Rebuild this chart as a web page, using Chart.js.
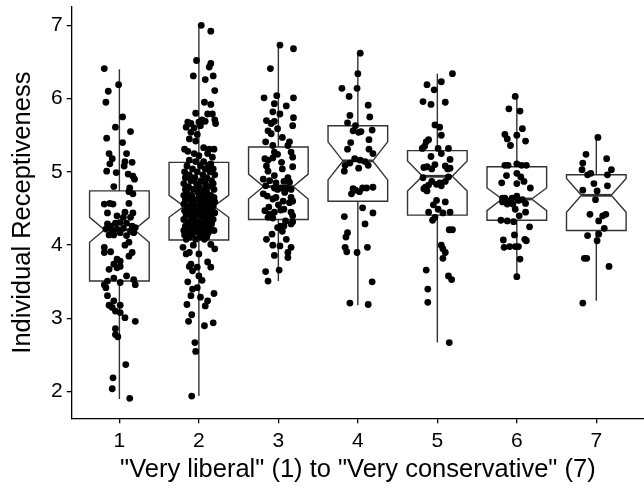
<!DOCTYPE html>
<html>
<head>
<meta charset="utf-8">
<script src="https://cdn.jsdelivr.net/npm/chart.js@4.4.0/dist/chart.umd.min.js"></script>
<style>
  html, body { margin: 0; padding: 0; background: #fff; }
  #chart { display: block; }
</style>
</head>
<body>
<canvas id="chart" width="644" height="492"></canvas>
<script>
// ideology categories (1 = very liberal, 7 = very conservative)
const categories = [1, 2, 3, 4, 5, 6, 7];
const xTicks = [1, 2, 3, 4, 5, 6, 7];
const yTicks = [2, 3, 4, 5, 6, 7];

// box summary, one entry per category
const whiskLo = [1.90, 1.94, 3.51, 3.18, 2.67, 3.57, 3.24];
const q1      = [3.51, 4.07, 4.35, 4.60, 4.41, 4.34, 4.20];
const notchLo = [4.04, 4.38, 4.63, 4.89, 4.74, 4.47, 4.45];
const median  = [4.21, 4.53, 4.80, 5.15, 4.94, 4.63, 4.68];
const notchHi = [4.38, 4.68, 4.97, 5.41, 5.15, 4.78, 4.91];
const q3      = [4.74, 5.13, 5.34, 5.63, 5.29, 5.07, 4.96];
const whiskHi = [6.40, 7.00, 6.73, 6.62, 6.34, 6.03, 5.47];

// jittered respondents: [horizontal jitter, receptiveness]
const cat1 = [
  [-0.19, 6.41], [-0.01, 6.19], [-0.14, 6.10], [-0.17, 5.95], [0.04, 5.75], [-0.05, 5.61],
  [0.14, 5.55], [-0.16, 5.46], [0.04, 5.40], [-0.13, 5.25], [0.09, 5.25], [-0.09, 5.18],
  [-0.12, 5.11], [0.07, 5.14], [0.16, 5.13], [0.06, 5.08], [-0.16, 5.01], [-0.04, 4.99],
  [0.11, 4.97], [0.17, 4.94], [0.19, 4.90], [-0.07, 4.80], [0.13, 4.78], [0.12, 4.73],
  [0.17, 4.70], [-0.19, 4.56], [-0.12, 4.57], [-0.08, 4.56], [0.12, 4.57], [-0.15, 4.44],
  [0.07, 4.45], [0.17, 4.44], [-0.03, 4.40], [0.05, 4.38], [0.14, 4.38], [-0.15, 4.29],
  [-0.11, 4.26], [-0.05, 4.30], [0.01, 4.31], [0.09, 4.30], [0.16, 4.26], [0.20, 4.24],
  [-0.17, 4.22], [-0.09, 4.19], [-0.03, 4.22], [0.05, 4.23], [0.14, 4.19], [0.18, 4.17],
  [-0.13, 4.14], [-0.07, 4.14], [0.01, 4.17], [0.09, 4.13], [-0.19, 3.97], [0.07, 4.00],
  [0.12, 4.04], [-0.19, 3.90], [-0.11, 3.91], [0.16, 3.90], [0.12, 3.85], [-0.03, 3.81],
  [0.01, 3.78], [-0.07, 3.74], [-0.13, 3.67], [-0.03, 3.69], [0.01, 3.71], [0.09, 3.58],
  [0.18, 3.53], [-0.07, 3.55], [-0.15, 3.51], [-0.19, 3.46], [-0.17, 3.42], [0.20, 3.46],
  [0.01, 3.49], [-0.15, 3.31], [-0.07, 3.24], [-0.13, 3.18], [-0.09, 3.15], [0.01, 3.18],
  [-0.05, 3.10], [0.01, 3.08], [0.07, 3.01], [0.20, 2.96], [-0.05, 2.86], [-0.05, 2.78],
  [-0.02, 2.75], [0.08, 2.37], [-0.08, 2.19], [-0.09, 2.04], [0.13, 1.91]
];

const cat2 = [
  [0.03, 7.00], [0.15, 6.92], [-0.03, 6.52], [0.15, 6.48], [0.13, 6.43], [-0.07, 6.31],
  [0.08, 6.26], [0.18, 6.31], [0.20, 6.11], [0.07, 5.95], [0.15, 5.92], [-0.04, 5.80],
  [0.11, 5.79], [0.17, 5.79], [0.20, 5.71], [0.21, 5.66], [-0.14, 5.68], [-0.10, 5.66],
  [0.00, 5.68], [0.04, 5.71], [0.08, 5.69], [-0.16, 5.61], [-0.06, 5.60], [0.02, 5.63],
  [-0.10, 5.54], [-0.02, 5.51], [-0.12, 5.45], [-0.04, 5.42], [-0.18, 5.31], [-0.14, 5.28],
  [0.06, 5.33], [0.13, 5.31], [0.19, 5.31], [-0.06, 5.25], [0.00, 5.22], [0.11, 5.25],
  [0.17, 5.20], [-0.12, 5.16], [-0.04, 5.14], [0.06, 5.14], [0.15, 5.11],
  [-0.15, 5.08], [0.02, 5.08], [0.12, 5.08], [-0.08, 5.04], [0.08, 5.04], [0.18, 5.04],
  [-0.18, 5.00], [-0.02, 5.00], [0.14, 5.00], [-0.12, 4.96], [0.05, 4.96], [0.20, 4.96],
  [-0.05, 4.92], [0.10, 4.92], [-0.17, 4.92], [-0.10, 4.88], [0.03, 4.88], [0.16, 4.88],
  [-0.19, 4.84], [-0.03, 4.84], [0.08, 4.84], [0.18, 4.84], [-0.13, 4.80], [0.00, 4.80],
  [0.12, 4.80], [-0.07, 4.76], [0.06, 4.76], [0.19, 4.76], [-0.17, 4.76], [-0.15, 4.72],
  [-0.01, 4.72], [0.10, 4.72], [-0.09, 4.68], [0.04, 4.68], [0.15, 4.68], [-0.19, 4.68],
  [-0.13, 4.65], [0.00, 4.65], [0.09, 4.65], [0.19, 4.65], [-0.17, 4.62], [-0.05, 4.62],
  [0.06, 4.62], [0.14, 4.62], [-0.10, 4.59], [0.02, 4.59], [0.11, 4.59], [0.20, 4.59],
  [-0.19, 4.56], [-0.07, 4.56], [0.05, 4.56], [0.16, 4.56], [-0.14, 4.53], [-0.02, 4.53],
  [0.09, 4.53], [0.18, 4.53], [-0.10, 4.50], [0.01, 4.50], [0.13, 4.50], [-0.18, 4.47],
  [-0.06, 4.47], [0.07, 4.47], [0.17, 4.47], [-0.12, 4.44], [0.00, 4.44], [0.10, 4.44],
  [0.20, 4.44], [-0.16, 4.41], [-0.04, 4.41], [0.06, 4.41], [0.15, 4.41], [-0.09, 4.38],
  [0.03, 4.38], [0.12, 4.38], [-0.19, 4.35], [-0.06, 4.35], [0.08, 4.35], [0.18, 4.35],
  [-0.13, 4.32], [-0.01, 4.32], [0.11, 4.32], [-0.08, 4.29], [0.05, 4.29], [0.16, 4.29],
  [-0.17, 4.26], [-0.03, 4.26], [0.09, 4.26], [-0.11, 4.23], [0.02, 4.23], [0.14, 4.23],
  [-0.19, 4.20], [-0.06, 4.20], [0.07, 4.20], [0.19, 4.20], [-0.14, 4.17], [0.00, 4.17],
  [0.12, 4.17], [-0.08, 4.14], [0.05, 4.14], [-0.18, 4.14], [-0.12, 4.11], [0.01, 4.11],
  [0.10, 4.11], [-0.16, 4.08], [-0.04, 4.08], [0.07, 4.08],
  [-0.20, 3.97], [-0.07, 4.00], [0.15, 4.01], [0.20, 3.95], [-0.16, 3.88], [-0.12, 3.90],
  [0.00, 3.88], [-0.10, 3.74], [-0.02, 3.70], [0.11, 3.77], [0.15, 3.70], [-0.08, 3.65],
  [-0.12, 3.71], [0.00, 3.58], [-0.14, 3.50], [0.04, 3.52], [-0.08, 3.40], [-0.02, 3.42],
  [-0.10, 3.31], [0.02, 3.29], [0.19, 3.34], [0.11, 3.24], [0.08, 3.17], [-0.15, 3.19],
  [-0.09, 3.05], [-0.13, 2.96], [0.07, 2.90], [0.18, 2.94], [-0.05, 2.67], [-0.04, 2.55],
  [-0.09, 1.94]
];

const cat3 = [
  [0.02, 6.73], [0.19, 6.68], [-0.10, 6.41], [-0.18, 6.01], [-0.02, 6.04], [0.19, 6.01],
  [-0.05, 5.93], [0.10, 5.90], [-0.07, 5.82], [0.02, 5.79], [0.19, 5.74], [-0.15, 5.70],
  [-0.05, 5.69], [-0.09, 5.66], [0.18, 5.63], [-0.13, 5.56], [-0.01, 5.59], [-0.09, 5.52],
  [0.05, 5.47], [-0.16, 5.41], [0.14, 5.41], [0.12, 5.36], [-0.07, 5.36], [0.16, 5.27],
  [-0.05, 5.27], [-0.01, 5.24], [-0.17, 5.18], [-0.13, 5.16], [-0.07, 5.19], [0.18, 5.20],
  [0.04, 5.13], [-0.15, 5.08], [-0.13, 5.01], [0.05, 5.04], [0.18, 5.07], [-0.05, 4.95],
  [0.12, 4.92], [-0.19, 4.90], [-0.11, 4.88], [0.07, 4.87], [0.14, 4.86], [-0.03, 4.85],
  [-0.16, 4.81], [-0.05, 4.78], [-0.01, 4.76], [0.03, 4.78], [0.10, 4.78], [0.16, 4.76],
  [0.08, 4.72], [-0.19, 4.70], [-0.14, 4.67], [0.16, 4.65], [0.18, 4.60], [0.14, 4.58],
  [-0.07, 4.63], [-0.03, 4.65], [0.06, 4.60], [0.00, 4.55], [-0.12, 4.52], [-0.17, 4.47],
  [-0.11, 4.42], [-0.05, 4.45], [0.03, 4.48], [0.07, 4.49], [0.16, 4.45], [0.18, 4.40],
  [-0.13, 4.38], [-0.07, 4.37], [0.09, 4.33], [0.18, 4.32], [0.03, 4.26], [-0.01, 4.24],
  [0.05, 4.19], [0.07, 4.26], [0.16, 4.29], [-0.08, 4.15], [-0.15, 4.08], [0.10, 4.08],
  [-0.07, 4.00], [0.02, 3.99], [0.16, 3.97], [0.12, 3.90], [-0.05, 3.86], [0.12, 3.83],
  [-0.16, 3.64], [0.01, 3.66], [-0.13, 3.51]
];

const cat4 = [
  [0.03, 6.62], [0.00, 6.34], [-0.20, 6.14], [-0.01, 6.14], [-0.11, 6.03], [0.13, 5.91],
  [-0.10, 5.77], [0.15, 5.75], [-0.13, 5.67], [-0.03, 5.63], [-0.06, 5.56], [0.01, 5.54],
  [0.04, 5.55], [0.18, 5.57], [-0.09, 5.40], [0.14, 5.44], [-0.13, 5.31], [0.14, 5.31],
  [0.19, 5.25], [-0.04, 5.18], [0.03, 5.16], [0.09, 5.14], [-0.16, 5.09], [-0.10, 5.12],
  [0.01, 5.05], [0.13, 5.09], [-0.17, 5.01], [-0.06, 4.77], [-0.03, 4.75], [-0.08, 4.70],
  [0.06, 4.78], [0.11, 4.78], [0.19, 4.79], [0.02, 4.73], [0.06, 4.51], [0.19, 4.44],
  [-0.17, 4.39], [0.09, 4.29], [-0.13, 4.17], [-0.15, 4.11], [-0.16, 3.97], [-0.14, 3.91],
  [-0.01, 3.90], [0.12, 3.97], [0.18, 3.50], [-0.10, 3.21], [0.13, 3.19]
];

const cat5 = [
  [0.19, 6.34], [0.05, 6.23], [-0.13, 6.19], [-0.04, 6.12], [-0.18, 5.96], [-0.08, 5.92],
  [0.10, 5.95], [-0.03, 5.64], [0.03, 5.61], [0.05, 5.50], [-0.11, 5.44], [-0.14, 5.41],
  [-0.16, 5.35], [-0.19, 5.32], [0.01, 5.32], [0.14, 5.32], [0.05, 5.25], [-0.08, 5.21],
  [0.16, 5.17], [-0.03, 5.10], [0.10, 5.08], [-0.13, 5.07], [-0.17, 5.06], [-0.07, 5.04],
  [0.13, 5.04], [0.16, 5.05], [-0.18, 4.92], [0.14, 4.93], [-0.07, 4.87], [0.03, 4.85],
  [-0.01, 4.83], [-0.11, 4.82], [-0.15, 4.79], [-0.17, 4.77], [-0.13, 4.74], [0.10, 4.87],
  [0.05, 4.81], [-0.01, 4.61], [0.10, 4.59], [-0.05, 4.55], [0.16, 4.45], [0.01, 4.49],
  [-0.11, 4.45], [0.07, 4.44], [-0.03, 4.38], [-0.06, 4.34], [0.15, 4.21], [0.19, 4.21],
  [0.05, 4.00], [0.07, 3.95], [0.10, 3.90], [0.07, 3.82], [-0.14, 3.66], [0.14, 3.58],
  [0.18, 3.53], [-0.12, 3.40], [-0.12, 3.22], [0.15, 2.67]
];

const cat6 = [
  [-0.02, 6.03], [-0.10, 5.86], [0.04, 5.83], [0.07, 5.59], [-0.15, 5.51], [0.00, 5.50],
  [-0.12, 5.45], [-0.08, 5.36], [0.11, 5.42], [-0.15, 5.09], [-0.11, 5.09], [0.00, 5.11],
  [0.06, 5.09], [0.12, 5.09], [0.00, 4.98], [0.05, 4.93], [-0.13, 4.95], [0.09, 4.87],
  [-0.19, 4.85], [0.00, 4.84], [0.17, 4.78], [-0.18, 4.64], [-0.15, 4.64], [-0.06, 4.64],
  [0.00, 4.67], [0.02, 4.61], [-0.12, 4.56], [-0.05, 4.56], [0.11, 4.57], [-0.18, 4.59],
  [0.07, 4.62], [-0.08, 4.60], [-0.02, 4.49], [0.11, 4.45], [-0.20, 4.34], [-0.12, 4.33],
  [-0.04, 4.32], [0.03, 4.40], [0.16, 4.25], [-0.03, 4.14], [-0.17, 4.07], [0.10, 4.08],
  [0.12, 4.06], [-0.16, 3.97], [-0.09, 3.98], [-0.02, 3.98], [0.02, 3.98], [0.04, 3.81],
  [0.00, 3.57]
];

const cat7 = [
  [0.02, 5.47], [-0.13, 5.24], [0.13, 5.18], [-0.17, 5.12], [-0.18, 5.03], [0.19, 5.03],
  [-0.11, 4.96], [-0.07, 4.98], [0.14, 4.96], [-0.03, 4.84], [-0.17, 4.75], [0.01, 4.74],
  [0.14, 4.81], [-0.01, 4.62], [-0.08, 4.42], [0.12, 4.42], [0.08, 4.40], [0.03, 4.33],
  [0.10, 4.23], [-0.11, 4.13], [0.03, 4.15], [0.01, 4.06], [-0.15, 3.82], [-0.12, 3.82],
  [0.16, 3.71], [-0.17, 3.21]
];

const catPoints = [cat1, cat2, cat3, cat4, cat5, cat6, cat7];

const boxHalf = 0.375;     // half box width in category units
const notchInset = 0.25;   // fraction of box width pulled in at the median

// notched boxes drawn underneath the jittered points
const notchedBoxes = {
  id: "notchedBoxes",
  beforeDatasetsDraw(chart) {
    const { ctx, scales: { x, y } } = chart;
    ctx.save();
    ctx.strokeStyle = "#333333";
    ctx.lineJoin = "miter";
    categories.forEach((c, i) => {
      const xl = x.getPixelForValue(c - boxHalf);
      const xr = x.getPixelForValue(c + boxHalf);
      const xc = x.getPixelForValue(c);
      const ni = (xr - xl) * notchInset;
      const yQ1 = y.getPixelForValue(q1[i]);
      const yQ3 = y.getPixelForValue(q3[i]);
      const yNL = y.getPixelForValue(notchLo[i]);
      const yNH = y.getPixelForValue(notchHi[i]);
      const yMed = y.getPixelForValue(median[i]);

      ctx.lineWidth = 1.4;
      ctx.beginPath();
      ctx.moveTo(xc, y.getPixelForValue(whiskHi[i]));
      ctx.lineTo(xc, yQ3);
      ctx.moveTo(xc, yQ1);
      ctx.lineTo(xc, y.getPixelForValue(whiskLo[i]));
      ctx.stroke();

      ctx.beginPath();
      ctx.moveTo(xl, yQ3);
      ctx.lineTo(xl, yNH);
      ctx.lineTo(xl + ni, yMed);
      ctx.lineTo(xl, yNL);
      ctx.lineTo(xl, yQ1);
      ctx.lineTo(xr, yQ1);
      ctx.lineTo(xr, yNL);
      ctx.lineTo(xr - ni, yMed);
      ctx.lineTo(xr, yNH);
      ctx.lineTo(xr, yQ3);
      ctx.closePath();
      ctx.fillStyle = "#ffffff";
      ctx.fill();
      ctx.stroke();

      ctx.lineWidth = 2.8;
      ctx.beginPath();
      ctx.moveTo(xl + ni, yMed);
      ctx.lineTo(xr - ni, yMed);
      ctx.stroke();
    });
    ctx.restore();
  }
};

const datasets = catPoints.map((pts, i) => ({
  label: "Ideology " + categories[i],
  data: pts.map(p => ({ x: categories[i] + p[0], y: p[1] })),
  backgroundColor: "#000000",
  borderWidth: 0,
  pointRadius: 3.4,
  pointHoverRadius: 3.4
}));

const fontFamily = "'Liberation Sans', Arial, Helvetica, sans-serif";

// drop the label overflow padding so the plot panel sits where the layout puts it
const noOverflow = (scale) => {
  scale.paddingTop = 0;
  scale.paddingBottom = 0;
  scale.paddingLeft = 0;
  scale.paddingRight = 0;
};

new Chart(document.getElementById("chart"), {
  type: "scatter",
  data: { datasets: datasets },
  plugins: [notchedBoxes],
  options: {
    responsive: false,
    animation: false,
    // panel runs past the right edge, as in the cropped original
    layout: { autoPadding: false, padding: { top: 7, right: -9.5, left: 0, bottom: 0 } },
    plugins: {
      legend: { display: false },
      tooltip: { enabled: false }
    },
    scales: {
      x: {
        type: "linear",
        min: 0.4,
        max: 7.6,
        afterBuildTicks: (scale) => { scale.ticks = xTicks.map(v => ({ value: v })); },
        afterFit: (scale) => { scale.height = 73.7; noOverflow(scale); },
        grid: { drawOnChartArea: false, drawTicks: true, tickLength: 5, color: "#000", lineWidth: 1.3 },
        border: { display: true, color: "#000", width: 1.3 },
        ticks: { color: "#000", padding: 5, font: { family: fontFamily, size: 21 } },
        title: {
          display: true,
          text: '"Very liberal" (1) to "Very conservative" (7)',
          color: "#000",
          font: { family: fontFamily, size: 25.5, lineHeight: 1.2 },
          padding: { top: 0, bottom: 7 }
        }
      },
      y: {
        type: "linear",
        min: 1.637,
        max: 7.25,
        afterBuildTicks: (scale) => { scale.ticks = yTicks.map(v => ({ value: v })); },
        afterFit: (scale) => { scale.width = 71.7; noOverflow(scale); },
        grid: { drawOnChartArea: false, drawTicks: true, tickLength: 5, color: "#000", lineWidth: 1.3 },
        border: { display: true, color: "#000", width: 1.3 },
        ticks: { color: "#000", padding: 4, font: { family: fontFamily, size: 21 } },
        title: {
          display: true,
          text: "Individual Receptiveness",
          color: "#000",
          font: { family: fontFamily, size: 25.5, lineHeight: 1.2 },
          padding: { top: 8, bottom: 0 }
        }
      }
    }
  }
});
</script>
</body>
</html>
